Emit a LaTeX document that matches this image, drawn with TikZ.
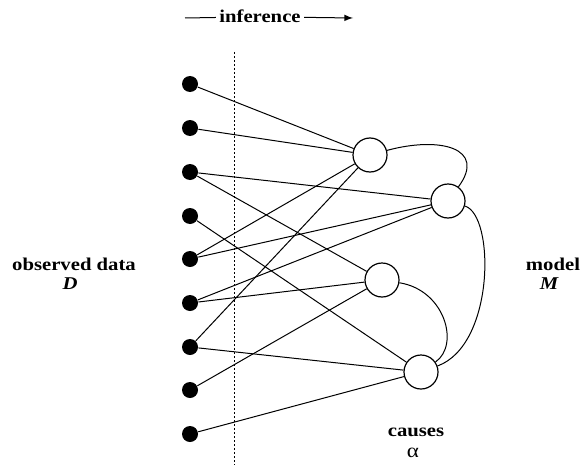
\documentclass[tikz,border=0pt]{standalone}
\usepackage{fontspec}
\setmainfont[FakeStretch=1.15]{Liberation Serif}
\begin{document}
\begin{tikzpicture}[x=0.5pt,y=-0.5pt,line width=0.5pt,
    datum/.style={circle,fill,inner sep=0pt,minimum size=8pt},
    cause/.style={circle,draw,fill=white,line width=0.6pt,inner sep=0pt,minimum size=17pt},
    lbl/.style={font=\fontsize{9}{10}\selectfont\bfseries,anchor=base,inner sep=0pt}]
    \useasboundingbox (0,0) rectangle (582,465);

    % observed data
    \node[datum] (d1) at (190,84) {};
    \node[datum] (d2) at (190,128) {};
    \node[datum] (d3) at (190,172) {};
    \node[datum] (d4) at (190,216) {};
    \node[datum] (d5) at (190,259) {};
    \node[datum] (d6) at (190,303) {};
    \node[datum] (d7) at (190,347) {};
    \node[datum] (d8) at (190,390) {};
    \node[datum] (d9) at (190,434) {};

    % causes
    \node[cause] (c1) at (370,155) {};
    \node[cause] (c2) at (448,201) {};
    \node[cause] (c3) at (382,280) {};
    \node[cause] (c4) at (421,372) {};

    \draw (d1) edge (c1);
    \draw (d2) edge (c1);
    \draw (d3) edge (c2);
    \draw (d3) edge (c3);
    \draw (d4) edge (c4);
    \draw (d5) edge (c1);
    \draw (d5) edge (c2);
    \draw (d6) edge (c2);
    \draw (d6) edge (c3);
    \draw (d7) edge (c1);
    \draw (d7) edge (c4);
    \draw (d8) edge (c3);
    \draw (d9) edge (c4);

    \draw (c1) .. controls (440,136) and (487,148) .. (c2);
    \draw (c2) .. controls (495,215) and (495,345) .. (c4);
    \draw (c3) .. controls (445,290) and (460,345) .. (c4);

    % border between data and model
    \coordinate (top) at (234,52);
    \coordinate (bot) at (234,465);
    \draw[dash pattern=on 1pt off 1pt] (top) -- (bot);

    \node[lbl,inner sep=1.5pt] (infer) at (260,23) {inference};
    \coordinate (inl) at (185,18);
    \coordinate (inr) at (353,18);
    \draw (inl) -- (infer);
    \draw[-latex] (infer) -- (inr);

    \node[lbl] (obs) at (74,270) {observed data};
    \node[lbl] (dname) at (70,289) {\itshape D};
    \node[lbl] (model) at (553,270) {model};
    \node[lbl] (mname) at (549,289) {\itshape M};
    \node[lbl] (causes) at (416,436) {causes};
    \node[lbl,font=\fontsize{10}{10}\selectfont] (alpha) at (413,457) {α};
\end{tikzpicture}
\end{document}
